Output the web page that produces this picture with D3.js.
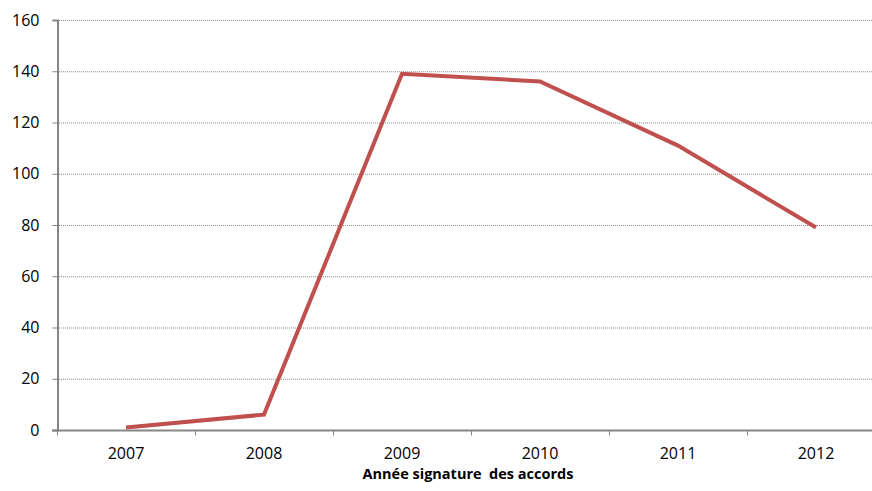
<!DOCTYPE html>
<html>
<head>
<meta charset="utf-8">
<script src="https://cdn.jsdelivr.net/npm/d3@7"></script>
<style>
  html, body { margin: 0; padding: 0; background: #fff; }
  svg { display: block; }
  text { font-family: "Open Sans", "Noto Sans", sans-serif; fill: #000; }
</style>
</head>
<body>
<svg id="chart" width="872" height="491"></svg>
<script>
// Number of agreements signed per year
const years = ["2007", "2008", "2009", "2010", "2011", "2012"];
const agreements = [1, 6, 139, 136, 111, 79];
const yTicks = [0, 20, 40, 60, 80, 100, 120, 140, 160];
const xTitle = "Année signature  des accords";

const svg = d3.select("#chart");
const plotLeft = 57, plotTop = 20, plotBottom = 430;
const band = 138;
const plotRight = plotLeft + band * years.length;

const x = d3.scaleBand().domain(years).range([plotLeft, plotRight]);
const y = d3.scaleLinear().domain([0, 160]).range([plotBottom, plotTop]);

// Horizontal dotted gridlines
svg.append("g")
  .selectAll("line")
  .data(yTicks.filter(d => d > 0))
  .join("line")
  .attr("x1", plotLeft).attr("x2", 872)
  .attr("y1", d => y(d) + 0.5).attr("y2", d => y(d) + 0.5)
  .attr("stroke", "#8a8a8a")
  .attr("stroke-width", 1)
  .attr("stroke-dasharray", "1,1");

// Y axis
const yAxis = svg.append("g")
  .attr("transform", `translate(${plotLeft + 0.5},0)`)
  .call(d3.axisLeft(y).tickValues(yTicks).tickSize(5).tickPadding(13));
yAxis.select(".domain").attr("stroke", "#868686").attr("stroke-width", 2);
yAxis.selectAll(".tick line").attr("stroke", "#868686");
yAxis.selectAll(".tick text").style("font-size", "16px").attr("fill", "#000");

// X axis with ticks at category boundaries
const xAxis = svg.append("g").attr("transform", `translate(0,${plotBottom + 0.5})`);
xAxis.append("line")
  .attr("x1", plotLeft - 5).attr("x2", plotRight)
  .attr("stroke", "#868686").attr("stroke-width", 2);
xAxis.selectAll("line.tk")
  .data(years)
  .join("line")
  .attr("class", "tk")
  .attr("x1", d => x(d) + 0.5).attr("x2", d => x(d) + 0.5)
  .attr("y1", 0).attr("y2", 5)
  .attr("stroke", "#868686");
xAxis.selectAll("text")
  .data(years)
  .join("text")
  .attr("x", d => x(d) + x.bandwidth() / 2)
  .attr("y", 28)
  .attr("text-anchor", "middle")
  .style("font-size", "16px")
  .text(d => d);

// Axis title
svg.append("text")
  .attr("x", 468)
  .attr("y", 479)
  .attr("text-anchor", "middle")
  .style("font-size", "14.5px")
  .style("font-weight", "bold")
  .style("white-space", "pre")
  .text(xTitle);

// Data line
const line = d3.line()
  .x((d, i) => x(years[i]) + x.bandwidth() / 2)
  .y(d => y(d));

svg.append("path")
  .datum(agreements)
  .attr("d", line)
  .attr("fill", "none")
  .attr("stroke", "#C0504D")
  .attr("stroke-width", 4)
  .attr("stroke-linejoin", "miter");
</script>
</body>
</html>
